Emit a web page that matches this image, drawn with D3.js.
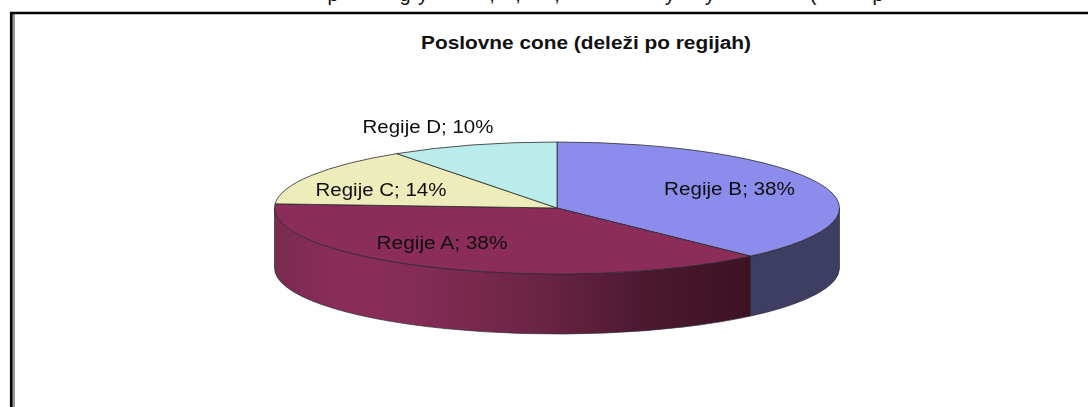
<!DOCTYPE html>
<html>
<head>
<meta charset="utf-8">
<script src="https://cdn.jsdelivr.net/npm/d3@7"></script>
<style>
html, body {margin: 0; padding: 0; background: white; overflow: hidden;}
text {font-family: "Liberation Sans", Arial, sans-serif; fill: #111;}
</style>
</head>
<body>
<div id="slika"></div>
<script>
const naslov = 'Poslovne cone (deleži po regijah)';
const regije = ['Regije B', 'Regije A', 'Regije C', 'Regije D'];
const deleži = [38, 38, 14.4, 9.6];
const barve = ['#8c8cec', '#8b2d58', '#ededbb', '#bbecec'];
const barveStran = ['#3e3e62', '#8b2d58', '#ededbb', '#bbecec'];
// only the tails of the cut-off line above the frame can be read
const repki = ['p', 'g', 'y', ',', ',', ',', 'y', 'y', '(', 'p'];

const Amplada = 1088;
const Alçada = 407;
const cx = 557, cy = 208, rx = 282.5, ry = 66, globina = 60;

// label anchors, same order as regije
const oznakaX = [729.5, 442, 381, 428];
const oznakaY = [189, 243, 190, 127];
const repkiX = [333, 405, 423, 492, 518, 557, 670, 710, 813, 878];

const svg = d3.select('#slika')
	.append('svg')
		.attr('width', Amplada)
		.attr('height', Alçada)
		.style('display', 'block');

const defs = svg.append('defs');
const prelivA = defs.append('linearGradient')
	.attr('id', 'prelivA')
	.attr('gradientUnits', 'userSpaceOnUse')
	.attr('x1', cx - rx).attr('x2', 750)
	.attr('y1', 0).attr('y2', 0);
prelivA.selectAll('stop')
	.data([[0, '#7a2b4f'], [0.14, '#8b2d58'], [0.3, '#842c54'], [0.55, '#6b2544'], [0.8, '#4a182e'], [1, '#3d1223']])
	.enter()
	.append('stop')
		.attr('offset', d => d[0])
		.attr('stop-color', d => d[1]);

defs.append('filter')
	.attr('id', 'mehko')
	.append('feGaussianBlur')
		.attr('stdDeviation', 0.35);

// frame: no right or bottom edge in the crop, grey shadow inside the left line
svg.append('rect')
	.attr('x', 12)
	.attr('y', 14)
	.attr('width', 3)
	.attr('height', Alçada - 14)
	.attr('fill', '#9a9a9a');
svg.append('path')
	.attr('d', `M11.2,${Alçada} V13 H${Amplada}`)
	.attr('fill', 'none')
	.attr('stroke', 'black')
	.attr('stroke-width', 2.6);

svg.append('g')
	.selectAll('text')
	.data(repki)
	.enter()
	.append('text')
		.attr('x', (d, i) => repkiX[i])
		.attr('y', 1)
		.attr('text-anchor', 'middle')
		.attr('font-size', 20)
		.text(d => d);

svg.append('text')
	.attr('x', 586)
	.attr('y', 49)
	.attr('text-anchor', 'middle')
	.attr('font-size', 17.5)
	.attr('font-weight', 'bold')
	.attr('textLength', 330)
	.attr('lengthAdjust', 'spacingAndGlyphs')
	.text(naslov);

const pita = d3.pie().sort(null).startAngle(0).endAngle(2 * Math.PI);
const kosi = pita(deleži).map((d, i) => ({...d, ime: regije[i], barva: barve[i], stran: barveStran[i], i: i}));

function tocka(kot, dy=0) {
	return [cx + rx * Math.sin(kot), cy - ry * Math.cos(kot) + dy];
}

// visible wall of a slice, only the part of it on the front half
function stran(d) {
	const a = Math.max(d.startAngle, Math.PI / 2);
	const b = Math.min(d.endAngle, 3 * Math.PI / 2);
	if (b <= a) return null;
	const [x0, y0] = tocka(a);
	const [x1, y1] = tocka(b);
	return `M${x0},${y0} A${rx},${ry} 0 0 1 ${x1},${y1} V${y1 + globina}`
		+ ` A${rx},${ry} 0 0 0 ${x0},${y0 + globina} Z`;
}

const pie3d = svg.append('g');

pie3d.selectAll('path.stran')
	.data(kosi.filter(d => stran(d)))
	.enter()
	.append('path')
		.attr('class', 'stran')
		.attr('d', stran)
		.attr('fill', d => d.i === 1 ? 'url(#prelivA)' : d.stran)
		.attr('stroke', '#2a2a3a')
		.attr('stroke-width', 0.7);

const lok = d3.arc().innerRadius(0).outerRadius(rx);

pie3d.append('g')
	.attr('transform', `translate(${cx},${cy}) scale(1,${ry / rx})`)
	.selectAll('path')
	.data(kosi)
	.enter()
	.append('path')
		.attr('d', lok)
		.attr('fill', d => d.barva)
		.attr('stroke', '#2b2b2b')
		.attr('stroke-width', 0.8)
		.attr('vector-effect', 'non-scaling-stroke');

svg.append('g')
	.attr('filter', 'url(#mehko)')
	.selectAll('text')
	.data(kosi)
	.enter()
	.append('text')
		.attr('x', d => oznakaX[d.i])
		.attr('y', d => oznakaY[d.i] + 6)
		.attr('text-anchor', 'middle')
		.attr('font-size', 17.5)
		.attr('textLength', 131)
		.attr('lengthAdjust', 'spacingAndGlyphs')
		.text(d => `${d.ime}; ${Math.round(d.value)}%`);
</script>
</body>
</html>
